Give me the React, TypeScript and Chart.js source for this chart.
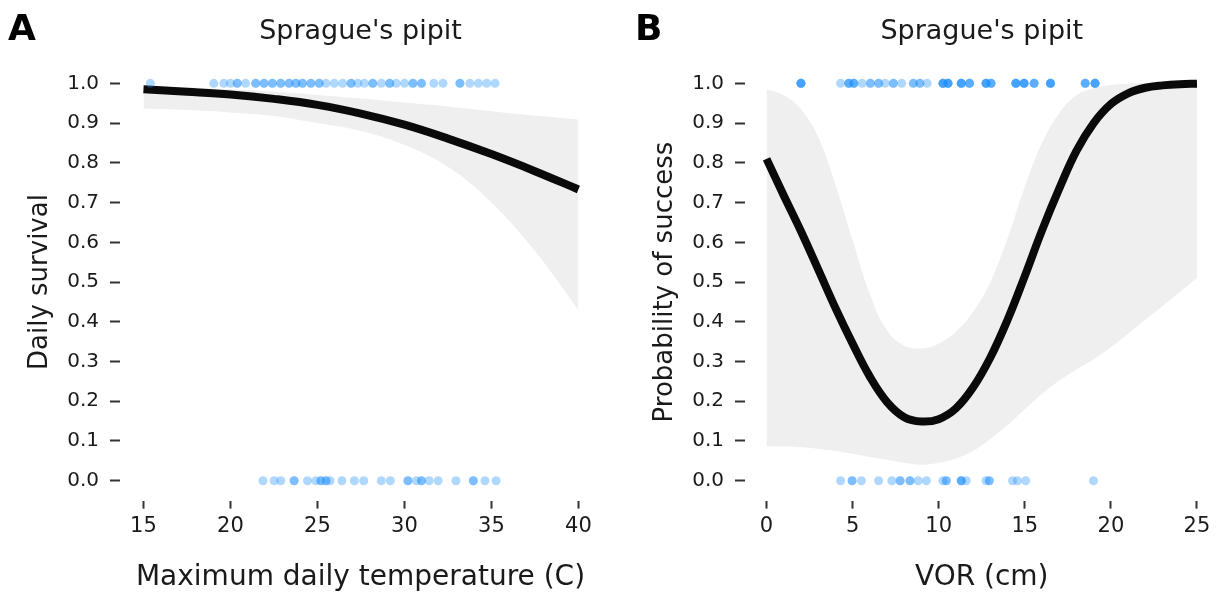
import React, { useEffect, useRef } from "react";
import { Chart, registerables } from "chart.js";

Chart.register(...registerables);

const FONT = "'DejaVu Sans', sans-serif";
const TEXT = "#1a1a1a";
const RIBBON = "#efefef";
const POINT = "rgba(30,144,255,0.35)";

// ---------- shared ----------
const yTicks = [0, 0.1, 0.2, 0.3, 0.4, 0.5, 0.6, 0.7, 0.8, 0.9, 1.0];

// ---------- Panel A: maximum daily temperature ----------
const tempTicks = [15, 20, 25, 30, 35, 40];
const tempX = [15, 17.5, 20, 22.5, 25, 27.5, 30, 32.5, 35, 37.5, 40];
const tempFit = [0.985, 0.979, 0.972, 0.961, 0.946, 0.924, 0.896, 0.861, 0.822, 0.779, 0.733];
const tempUpper = [0.994, 0.99, 0.985, 0.979, 0.971, 0.962, 0.952, 0.942, 0.93, 0.919, 0.909];
const tempLower = [0.936, 0.933, 0.927, 0.918, 0.9, 0.88, 0.845, 0.79, 0.7, 0.578, 0.43];
const tempSurvived = [
  15.39, 19.04, 19.62, 20.0, 20.39, 20.39, 20.87, 21.45, 21.45, 21.93, 21.93, 22.41, 22.41,
  22.89, 22.89, 23.37, 23.37, 23.76, 23.76, 24.14, 24.14, 24.62, 24.62, 25.1, 25.1, 25.49,
  25.97, 26.45, 26.93, 26.93, 27.32, 27.7, 28.18, 28.18, 28.67, 29.15, 29.15, 29.53, 30.01,
  30.49, 30.49, 30.98, 30.98, 31.69, 32.22, 33.19, 33.19, 33.76, 34.25, 34.73, 35.21,
];
const tempFailed = [
  21.87, 22.51, 22.89, 23.66, 23.66, 24.43, 24.91, 25.2, 25.2, 25.49, 25.49, 25.72, 26.41,
  27.12, 27.66, 28.67, 29.19, 30.2, 30.2, 30.69, 30.98, 30.98, 31.42, 31.94, 32.96, 33.96,
  33.96, 34.63, 35.27,
];

// ---------- Panel B: VOR ----------
const vorTicks = [0, 5, 10, 15, 20, 25];
const vorX = [0, 1, 2, 3, 4, 5, 6, 7, 8, 9, 10, 11, 12, 13, 14, 15, 16, 17, 18, 19, 20, 21, 22, 23, 24, 25];
const vorFit = [
  0.81, 0.718, 0.628, 0.532, 0.435, 0.345, 0.262, 0.198, 0.16, 0.149, 0.155, 0.182, 0.235,
  0.31, 0.405, 0.515, 0.63, 0.735, 0.83, 0.9, 0.948, 0.975, 0.989, 0.995, 0.998, 0.999,
];
const vorUpper = [
  0.985, 0.97, 0.935, 0.865, 0.745, 0.605, 0.47, 0.378, 0.34, 0.333, 0.345, 0.375, 0.425,
  0.5, 0.61, 0.74, 0.85, 0.925, 0.97, 0.988, 0.996, 0.999, 1.0, 1.0, 1.0, 1.0,
];
const vorLower = [
  0.087, 0.086, 0.084, 0.08, 0.075, 0.068, 0.06, 0.053, 0.045, 0.04, 0.045, 0.056, 0.075,
  0.105, 0.14, 0.18, 0.218, 0.252, 0.28, 0.306, 0.336, 0.37, 0.405, 0.44, 0.475, 0.51,
];
const vorSuccess = [
  2.0, 2.0, 2.0, 2.0, 4.3, 4.78, 4.78, 4.78, 5.07, 5.07, 5.07, 5.55, 6.03, 6.03, 6.51, 6.51,
  6.89, 7.37, 7.37, 7.85, 8.53, 8.53, 8.91, 8.91, 9.33, 10.25, 10.25, 10.25, 10.25, 10.54,
  10.54, 10.54, 10.54, 11.31, 11.31, 11.31, 11.31, 11.79, 11.79, 11.79, 12.75, 12.75, 12.75,
  12.75, 13.04, 13.04, 13.04, 14.48, 14.48, 14.48, 14.48, 14.96, 14.96, 14.96, 14.96, 15.54,
  15.54, 15.54, 16.49, 16.49, 16.49, 16.49, 18.51, 18.51, 18.51, 19.08, 19.08, 19.08, 19.08,
];
const vorFailure = [
  4.3, 4.97, 4.97, 5.51, 6.51, 7.28, 7.76, 7.76, 8.33, 8.33, 8.81, 9.29, 10.25, 10.44, 10.44,
  11.31, 11.31, 11.31, 11.6, 12.75, 12.94, 12.94, 14.29, 14.57, 15.05, 18.99,
];

const letterPlugin = {
  id: "panelLetter",
  afterDraw(chart: any, _args: any, opts: any) {
    const ctx = chart.ctx;
    ctx.save();
    ctx.font = `bold 36px ${FONT}`;
    ctx.fillStyle = "#000";
    ctx.textBaseline = "alphabetic";
    ctx.textAlign = "left";
    ctx.fillText(opts.text, opts.x, opts.y);
    ctx.restore();
  },
};

type PanelProps = {
  letter: string;
  letterX: number;
  xTitle: string;
  yTitle: string;
  xMin: number;
  xMax: number;
  xTicks: number[];
  curveX: number[];
  fit: number[];
  upper: number[];
  lower: number[];
  ones: number[];
  zeros: number[];
  yAxisWidth: number;
  yTitlePad: number;
  rightPad: number;
  width: number;
  left: number;
};

function Panel(p: PanelProps) {
  const ref = useRef<HTMLCanvasElement | null>(null);
  useEffect(() => {
    if (!ref.current) return;
    const pts = (xs: number[], ys: number[]) => xs.map((x, i) => ({ x, y: ys[i] }));
    const pointsAt = (xs: number[], y: number) => xs.map((x) => ({ x, y }));
    const chart = new Chart(ref.current, {
      type: "line",
      data: {
        datasets: [
          {
            data: pts(p.curveX, p.upper),
            borderColor: "rgba(0,0,0,0)",
            borderWidth: 0,
            backgroundColor: RIBBON,
            pointRadius: 0,
            fill: false,
            tension: 0.4,
            order: 3,
          },
          {
            data: pts(p.curveX, p.lower),
            borderColor: "rgba(0,0,0,0)",
            borderWidth: 0,
            backgroundColor: RIBBON,
            pointRadius: 0,
            fill: "-1",
            tension: 0.4,
            order: 2,
          },
          {
            data: pts(p.curveX, p.fit),
            borderColor: "#0a0a0a",
            borderWidth: 8,
            pointRadius: 0,
            fill: false,
            tension: 0.4,
            order: 1,
          },
          {
            data: pointsAt(p.ones, 1),
            showLine: false,
            pointRadius: 4.5,
            pointBorderWidth: 0,
            pointBackgroundColor: POINT,
            pointBorderColor: "rgba(0,0,0,0)",
            order: 0,
          },
          {
            data: pointsAt(p.zeros, 0),
            showLine: false,
            pointRadius: 4.5,
            pointBorderWidth: 0,
            pointBackgroundColor: POINT,
            pointBorderColor: "rgba(0,0,0,0)",
            order: 0,
          },
        ] as any,
      },
      options: {
        responsive: false,
        animation: false,
        devicePixelRatio: 1,
        events: [],
        layout: { padding: { left: 0, right: p.rightPad, top: 0, bottom: 0 } },
        plugins: {
          legend: { display: false },
          tooltip: { enabled: false },
          title: {
            display: true,
            text: "Sprague's pipit",
            color: TEXT,
            font: { family: FONT, size: 27, weight: "normal", lineHeight: 1.2 },
            padding: { top: 15.8, bottom: 15.3 },
            fullSize: false,
          },
          panelLetter: { text: p.letter, x: p.letterX, y: 40 },
        } as any,
        scales: {
          x: {
            type: "linear",
            min: p.xMin,
            max: p.xMax,
            afterBuildTicks: (s: any) => {
              s.ticks = p.xTicks.map((v) => ({ value: v }));
            },
            afterFit: (s: any) => {
              s.height = 94.4;
            },
            ticks: {
              color: TEXT,
              font: { family: FONT, size: 21 },
              padding: 5,
              maxRotation: 0,
              autoSkip: false,
              callback: (v: any) => String(v),
            },
            grid: {
              drawOnChartArea: false,
              drawTicks: true,
              tickLength: 8,
              tickColor: "#333",
              tickWidth: 2,
            },
            border: { display: false },
            title: {
              display: true,
              text: p.xTitle,
              color: TEXT,
              font: { family: FONT, size: 28, lineHeight: 1.2 },
              padding: { top: 0, bottom: 0 },
            },
          },
          y: {
            type: "linear",
            min: -0.05,
            max: 1.05,
            afterBuildTicks: (s: any) => {
              s.ticks = yTicks.map((v) => ({ value: v }));
            },
            afterFit: (s: any) => {
              s.width = p.yAxisWidth;
            },
            ticks: {
              color: TEXT,
              font: { family: FONT, size: 20 },
              padding: 11,
              autoSkip: false,
              callback: (v: any) => Number(v).toFixed(1),
            },
            grid: {
              drawOnChartArea: false,
              drawTicks: true,
              tickLength: 10,
              tickColor: "#333",
              tickWidth: 2,
            },
            border: { display: false },
            title: {
              display: true,
              text: p.yTitle,
              color: TEXT,
              font: { family: FONT, size: 26, lineHeight: 1.2 },
              padding: { top: p.yTitlePad, bottom: 0 },
            },
          },
        },
      } as any,
      plugins: [letterPlugin as any],
    });
    return () => chart.destroy();
  }, []);
  return (
    <canvas
      ref={ref}
      width={p.width}
      height={595}
      style={{ position: "absolute", left: p.left, top: 0, width: p.width, height: 595 }}
    />
  );
}

export default function App() {
  useEffect(() => {
    document.body.style.margin = "0";
    document.body.style.background = "#fff";
  }, []);
  return (
    <div style={{ position: "absolute", left: 0, top: 0, width: 1223, height: 595, background: "#fff", overflow: "hidden" }}>
      <Panel
        letter="A"
        letterX={8}
        xTitle="Maximum daily temperature (C)"
        yTitle="Daily survival"
        xMin={13.65}
        xMax={41.3}
        xTicks={tempTicks}
        curveX={tempX}
        fit={tempFit}
        upper={tempUpper}
        lower={tempLower}
        ones={tempSurvived}
        zeros={tempFailed}
        yAxisWidth={120}
        yTitlePad={24.4}
        rightPad={10}
        width={611}
        left={0}
      />
      <Panel
        letter="B"
        letterX={24}
        xTitle="VOR (cm)"
        yTitle="Probability of success"
        xMin={-1.25}
        xMax={26.25}
        xTicks={vorTicks}
        curveX={vorX}
        fit={vorFit}
        upper={vorUpper}
        lower={vorLower}
        ones={vorSuccess}
        zeros={vorFailure}
        yAxisWidth={134}
        yTitlePad={38.4}
        rightPad={0}
        width={612}
        left={611}
      />
    </div>
  );
}
